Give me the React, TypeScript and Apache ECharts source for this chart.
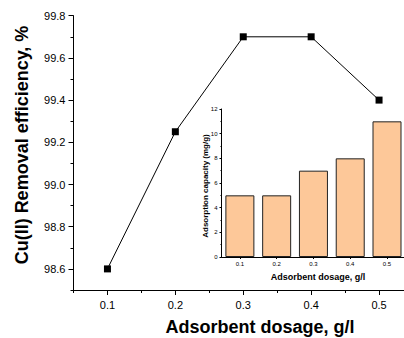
import React, { useEffect, useRef } from "react";
import * as echarts from "echarts";

const dosage = [0.1, 0.2, 0.3, 0.4, 0.5];
const removal = [98.6, 99.25, 99.7, 99.7, 99.4];
const insetCategories = ["0.1", "0.2", "0.3", "0.4", "0.5"];
const capacity = [5, 5, 7, 8, 11];
const yMajorTicks = [98.6, 98.8, 99.0, 99.2, 99.4, 99.6, 99.8];
const yMinorTicks = [98.5, 98.7, 98.9, 99.1, 99.3, 99.5, 99.7];
const xMajorTicks = [0.1, 0.2, 0.3, 0.4, 0.5];
const xMinorTicks = [0.05, 0.15, 0.25, 0.35, 0.45, 0.55];

const FONT = "Liberation Sans, Arial, sans-serif";

export default function App() {
  const ref = useRef<HTMLDivElement>(null);
  useEffect(() => {
    if (!ref.current) return;
    const chart = echarts.init(ref.current, null, { renderer: "svg" });
    const axisLine = { show: true, lineStyle: { color: "#000", width: 1 } };
    chart.setOption({
      animation: false,
      backgroundColor: "#fff",
      textStyle: { fontFamily: FONT },
      grid: [
        { left: 73.5, right: -9, top: 15.7, bottom: 48, containLabel: false, outerBoundsMode: "none" },
        { left: 221.5, right: -1.4, top: 109, bottom: 81, containLabel: false, outerBoundsMode: "none" },
      ],
      xAxis: [
        {
          type: "value", gridIndex: 0, min: 0.05, max: 0.55,
          axisLine, splitLine: { show: false },
          axisTick: { show: true, inside: false, length: 5, customValues: xMajorTicks, lineStyle: { color: "#000" } },
          axisLabel: { customValues: xMajorTicks, formatter: (v: number) => v.toFixed(1), color: "#000", fontSize: 11, margin: 9, fontFamily: FONT },
        },
        {
          type: "value", gridIndex: 0, min: 0.05, max: 0.55, position: "bottom",
          axisLine: { show: false }, splitLine: { show: false },
          axisTick: { show: true, length: 3, customValues: xMinorTicks, lineStyle: { color: "#000" } },
          axisLabel: { show: false },
        },
        {
          type: "category", gridIndex: 1, data: insetCategories,
          axisLine, splitLine: { show: false },
          axisTick: { show: true, alignWithLabel: true, length: 2, lineStyle: { color: "#000" } },
          axisLabel: { color: "#000", fontSize: 6, margin: 4, fontFamily: FONT },
        },
      ],
      yAxis: [
        {
          type: "value", gridIndex: 0, min: 98.5, max: 99.8,
          axisLine, splitLine: { show: false },
          axisTick: { show: true, length: 5, customValues: yMajorTicks, lineStyle: { color: "#000" } },
          axisLabel: { customValues: yMajorTicks, formatter: (v: number) => v.toFixed(1), color: "#000", fontSize: 11, margin: 8, fontFamily: FONT },
        },
        {
          type: "value", gridIndex: 0, min: 98.5, max: 99.8, position: "left",
          axisLine: { show: false }, splitLine: { show: false },
          axisTick: { show: true, length: 3, customValues: yMinorTicks, lineStyle: { color: "#000" } },
          axisLabel: { show: false },
        },
        {
          type: "value", gridIndex: 1, min: 0, max: 12, interval: 2,
          axisLine, splitLine: { show: false },
          axisTick: { show: true, length: 2, lineStyle: { color: "#000" } },
          minorTick: { show: true, splitNumber: 2, length: 1, lineStyle: { color: "#000" } },
          axisLabel: { color: "#000", fontSize: 6, margin: 4, fontFamily: FONT },
        },
      ],
      series: [
        {
          type: "line", xAxisIndex: 0, yAxisIndex: 0,
          data: dosage.map((d, i) => [d, removal[i]]),
          symbol: "rect", symbolSize: 7,
          lineStyle: { color: "#000", width: 1 },
          itemStyle: { color: "#000" },
        },
        {
          type: "bar", xAxisIndex: 2, yAxisIndex: 2,
          data: capacity, barWidth: 29,
          itemStyle: { color: "#FDC899", borderColor: "#222", borderWidth: 1 },
        },
      ],
      graphic: [
        { type: "text", x: 22, y: 145, rotation: Math.PI / 2, style: { text: "Cu(II) Removal efficiency, %", fontSize: 18, fontWeight: "bold", fontFamily: FONT, fill: "#000", align: "center", verticalAlign: "middle" } },
        { type: "text", x: 260, y: 327, style: { text: "Adsorbent dosage, g/l", fontSize: 18, fontWeight: "bold", fontFamily: FONT, fill: "#000", align: "center", verticalAlign: "middle" } },
        { type: "text", x: 205, y: 186, rotation: Math.PI / 2, style: { text: "Adsorption capacity (mg/g)", fontSize: 8, fontWeight: "bold", fontFamily: FONT, fill: "#000", align: "center", verticalAlign: "middle" } },
        { type: "text", x: 318, y: 277, style: { text: "Adsorbent dosage, g/l", fontSize: 9, fontWeight: "bold", fontFamily: FONT, fill: "#000", align: "center", verticalAlign: "middle" } },
      ],
    });
    return () => chart.dispose();
  }, []);
  return <div ref={ref} style={{ width: 404, height: 338, position: "fixed", left: 0, top: 0 }} />;
}
